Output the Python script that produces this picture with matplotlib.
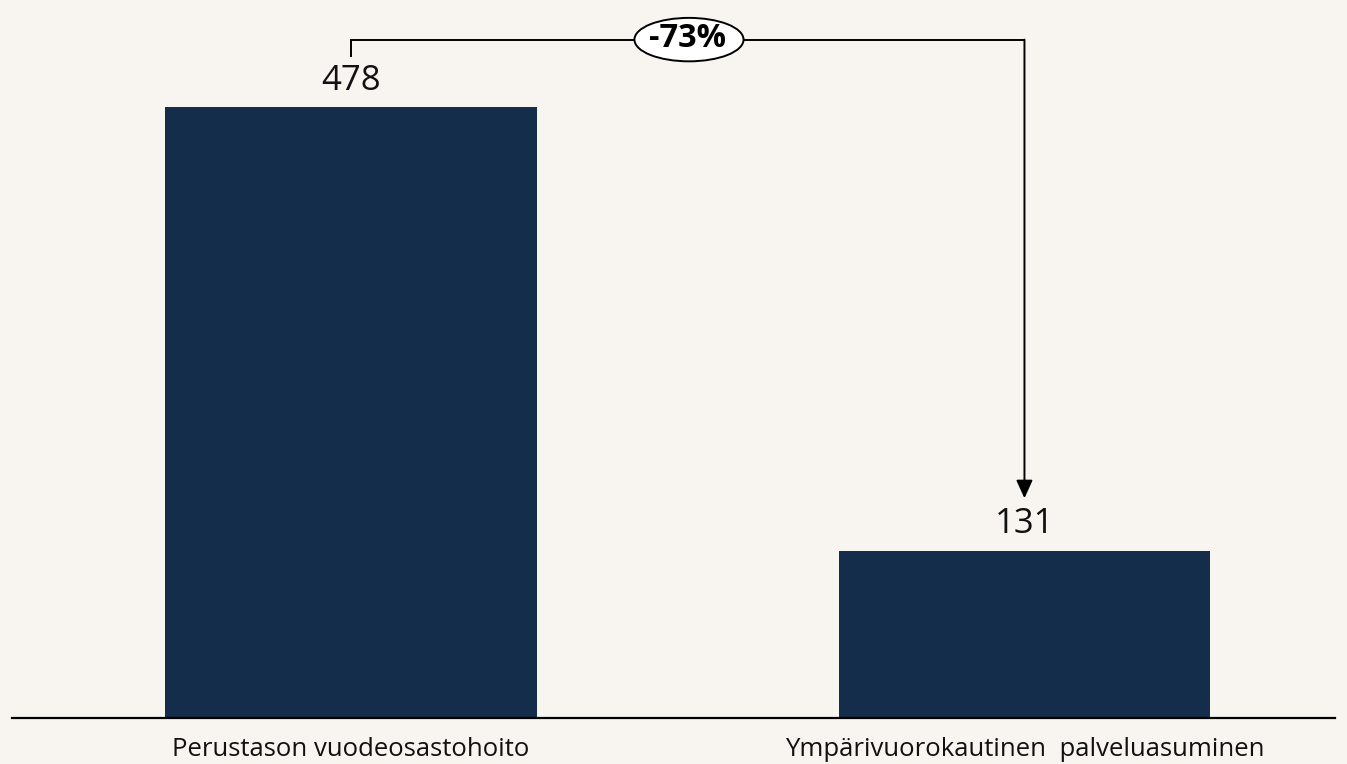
import matplotlib
matplotlib.use("Agg")
import matplotlib.pyplot as plt
from matplotlib.patches import Ellipse

categories = ["Perustason vuodeosastohoito", "Ympärivuorokautinen  palveluasuminen"]
values = [478, 131]
change_label = "-73%"

bg = "#F8F5F0"
bar_color = "#142D4B"
plt.rcParams['font.family'] = ['Open Sans', 'DejaVu Sans']

fig = plt.figure(figsize=(13.47, 7.64), dpi=100, facecolor=bg)
ax = fig.add_axes([12 / 1347, 46 / 764, 1323 / 1347, 1 - 46 / 764])
ax.set_facecolor(bg)

x = list(range(len(categories)))
ax.bar(x, values, width=0.552, color=bar_color, zorder=2)
ax.set_xlim(-0.503, 1.461)
ax.set_ylim(0, 562)

for xi, v in zip(x, values):
    ax.annotate(str(v), (xi, v), xytext=(0, 7), textcoords="offset points",
                ha="center", va="bottom", fontsize=25, color="#111111")

# bracket with arrow
top = values[0] + 53
ax.plot([0, 0, 1], [values[0] + 40, top, top], color="black", lw=1.4,
        solid_joinstyle="miter", zorder=3)
ax.annotate("", xy=(1, values[1] + 41), xytext=(1, top),
            arrowprops=dict(arrowstyle="-|>,head_length=1.1,head_width=0.5",
                            color="black", lw=1.4, shrinkA=0, shrinkB=0), zorder=3)
ax.add_patch(Ellipse((0.502, top), width=0.162, height=34, fc="white",
                     ec="black", lw=1.4, zorder=4))
ax.text(0.5, top + 0.5, change_label, ha="center", va="center", fontsize=23.5,
        fontweight="bold", zorder=5)

ax.set_xticks(x)
ax.set_xticklabels(categories, fontsize=18.5, color="#111111")
ax.tick_params(axis="x", length=0, pad=14)
ax.set_yticks([])
for s in ["top", "left", "right"]:
    ax.spines[s].set_visible(False)
ax.spines["bottom"].set_linewidth(1.6)
ax.spines["bottom"].set_color("black")

fig.savefig("out.png", dpi=100, facecolor=bg)
